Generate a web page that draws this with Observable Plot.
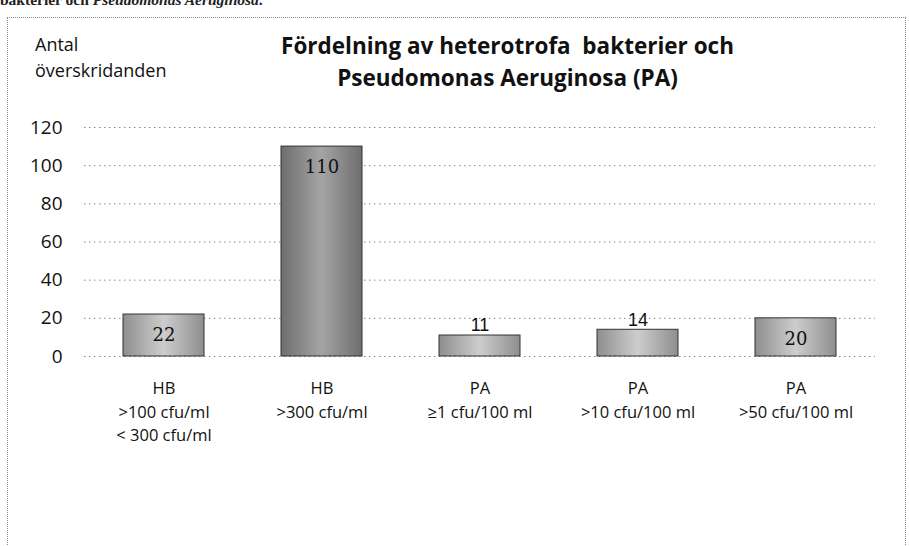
<!DOCTYPE html>
<html><head><meta charset="utf-8">
<script src="https://cdn.jsdelivr.net/npm/d3@7"></script>
<script src="https://cdn.jsdelivr.net/npm/@observablehq/plot@0.6"></script>
<style>
html,body{margin:0;padding:0;background:#fff;overflow:hidden;}
#wrap{position:relative;width:909px;height:546px;font-family:"Open Sans",Lato,sans-serif;color:#111;overflow:hidden;}
#frame{position:absolute;left:7px;top:17px;width:899px;height:540px;border:1px dotted #8a8a8a;box-sizing:border-box;}
#cut{position:absolute;left:0px;top:-8px;font-size:15.5px;line-height:16px;font-weight:bold;white-space:nowrap;color:#222;font-family:"Liberation Serif","DejaVu Serif",serif;}
#head{position:relative;height:110px;}
#ylab{position:absolute;left:35px;top:31px;font-size:18px;line-height:26px;}
#title{position:absolute;left:180px;width:655px;top:30px;text-align:center;font-size:22.5px;font-weight:bold;line-height:32px;}
svg{display:block;}
</style></head>
<body>
<div id="wrap">
  <div id="cut">bakterier och <i>Pseudomonas Aeruginosa</i>.</div>
  <div id="frame"></div>
  <div id="head">
    <div id="ylab">Antal<br>överskridanden</div>
    <div id="title">Fördelning av heterotrofa&nbsp; bakterier och<br>Pseudomonas Aeruginosa (PA)</div>
  </div>
  <div id="chart"></div>
</div>
<script>
const categories = [
  "HB\n>100 cfu/ml\n< 300 cfu/ml",
  "HB\n>300 cfu/ml",
  "PA\n≥1 cfu/100 ml",
  "PA\n>10 cfu/100 ml",
  "PA\n>50 cfu/100 ml"
];
const values = [22, 110, 11, 14, 20];
const yTicks = [0, 20, 40, 60, 80, 100, 120];

const data = categories.map((c, i) => ({cat: c, value: values[i]}));
const maxV = d3.max(values);

const chart = Plot.plot({
  width: 909,
  height: 436,
  marginLeft: 84,
  marginRight: 34,
  marginTop: 17,
  marginBottom: 190,
  style: {fontFamily: "'Open Sans', Lato, sans-serif", background: "transparent", color: "#111"},
  x: {domain: categories, paddingInner: 0.49, paddingOuter: 0.245, align: 0.5, label: null},
  y: {domain: [0, 120], ticks: yTicks, label: null},
  marks: [
    Plot.ruleY(yTicks, {stroke: "#8a8a8a", strokeDasharray: "1.5,3.5", strokeWidth: 1}),
    Plot.barY(data, {x: "cat", y: "value",
      fill: d => d.value === maxV ? "url(#gDark)" : "url(#gLight)",
      stroke: "#333", strokeWidth: 1}),
    Plot.text(data, {x: "cat", y: "value", text: d => String(d.value),
      fontSize: 18, fill: "#111", filter: d => d.value >= 20, dy: 21,
      fontFamily: "'DejaVu Serif', 'Liberation Serif', serif"}),
    Plot.text(data, {x: "cat", y: "value", text: d => String(d.value),
      fontSize: 18, fill: "#111", filter: d => d.value < 20, dy: -10,
      fontFamily: "'Liberation Sans', Arial, sans-serif"}),
    Plot.axisY({ticks: yTicks, tickSize: 0, tickPadding: 22, fontSize: 19, label: null}),
    Plot.axisX({tickSize: 0, tickPadding: 21, fontSize: 16.5, lineHeight: 1.42, label: null, lineAnchor: "top"})
  ]
});

const defs = d3.select(chart).insert("defs", ":first-child");
function grad(id, edge, mid) {
  const g = defs.append("linearGradient").attr("id", id).attr("x1", "0").attr("x2", "1").attr("y1", "0").attr("y2", "0");
  g.append("stop").attr("offset", "0").attr("stop-color", edge);
  g.append("stop").attr("offset", "0.5").attr("stop-color", mid);
  g.append("stop").attr("offset", "1").attr("stop-color", edge);
}
grad("gDark", "#6e6e6e", "#a4a4a4");
grad("gLight", "#8e8e8e", "#cdcdcd");

document.getElementById("chart").appendChild(chart);
</script>
</body></html>
